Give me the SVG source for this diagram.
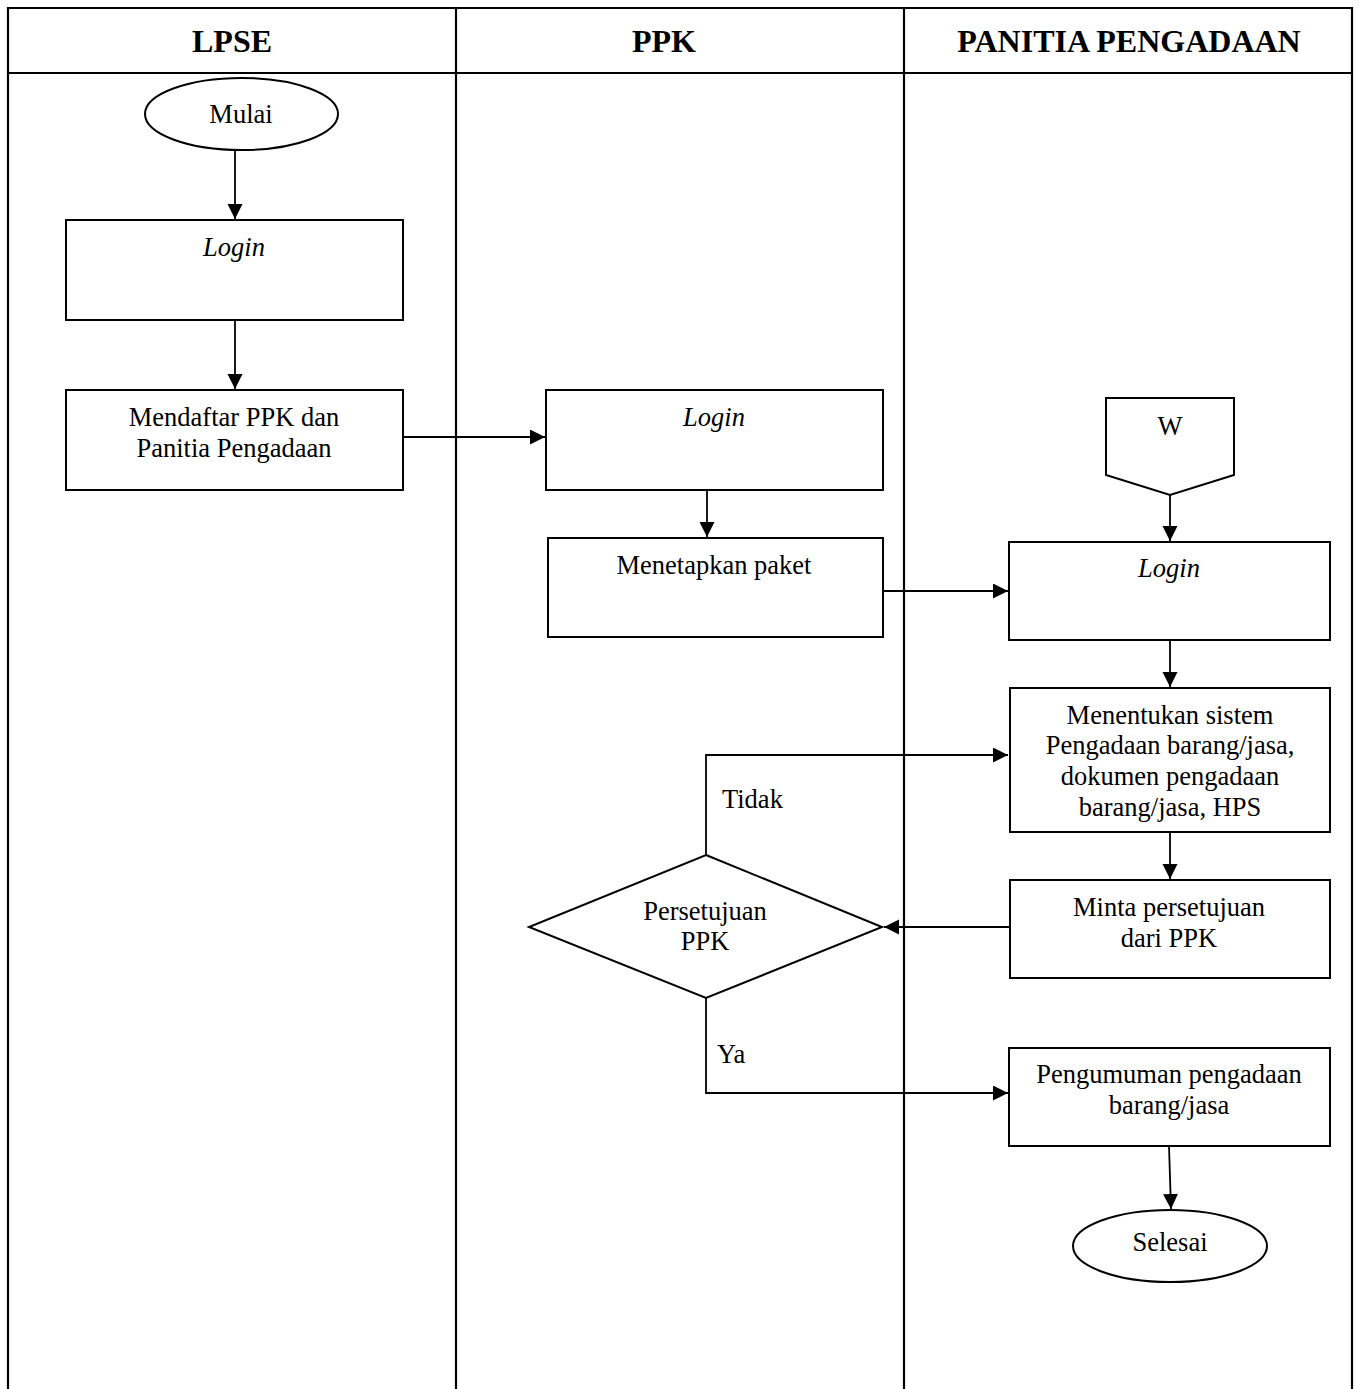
<svg xmlns="http://www.w3.org/2000/svg" width="1359" height="1389" viewBox="0 0 1359 1389">
<style>
text{font-family:"Liberation Serif","Times New Roman",serif;font-size:26.5px;fill:#000;text-anchor:middle}
.h{font-weight:bold;font-size:32px}
.i{font-style:italic}
.l{text-anchor:start}
.s{fill:#fff;stroke:#000;stroke-width:2}
.c{fill:none;stroke:#000;stroke-width:1.8}
.t{fill:none;stroke:#000;stroke-width:2.2}
</style>
<defs>
<marker id="a" markerWidth="16" markerHeight="16" refX="15" refY="7.5" orient="auto" markerUnits="userSpaceOnUse">
<path d="M0,0 L15,7.5 L0,15 Z" fill="#000"/>
</marker>
</defs>
<rect width="1359" height="1389" fill="#fff"/>
<g id="table">
<path class="t" d="M8,1389 V8 H1352 V1389 M8,73 H1352 M456,8 V1389 M904,8 V1389"/>
<text class="h" x="232" y="52">LPSE</text>
<text class="h" x="664" y="52">PPK</text>
<text class="h" x="1129" y="52">PANITIA PENGADAAN</text>
</g>
<g id="connectors">
<path class="c" d="M235,150 V219" marker-end="url(#a)"/>
<path class="c" d="M235,320 V389" marker-end="url(#a)"/>
<path class="c" d="M403,437 H545" marker-end="url(#a)"/>
<path class="c" d="M707,490 V537" marker-end="url(#a)"/>
<path class="c" d="M883,591 H1008" marker-end="url(#a)"/>
<path class="c" d="M1170,495 V541" marker-end="url(#a)"/>
<path class="c" d="M1170,640 V687" marker-end="url(#a)"/>
<path class="c" d="M1170,832 V879" marker-end="url(#a)"/>
<path class="c" d="M1010,927 H884" marker-end="url(#a)"/>
<path class="c" d="M706,855 V755 H1008" marker-end="url(#a)"/>
<path class="c" d="M706,998 V1093 H1008" marker-end="url(#a)"/>
<path class="c" d="M1169,1146 L1171,1209" marker-end="url(#a)"/>
<text class="l" x="722" y="808">Tidak</text>
<text class="l" x="717" y="1063">Ya</text>
</g>
<g id="mulai"><ellipse class="s" cx="241.5" cy="114" rx="96.5" ry="36"/><text x="241" y="123">Mulai</text></g>
<g id="login-lpse"><rect class="s" x="66" y="220" width="337" height="100"/><text class="i" x="234" y="256">Login</text></g>
<g id="mendaftar"><rect class="s" x="66" y="390" width="337" height="100"/><text x="234" y="426">Mendaftar PPK dan</text><text x="234" y="457">Panitia Pengadaan</text></g>
<g id="login-ppk"><rect class="s" x="546" y="390" width="337" height="100"/><text class="i" x="714" y="426">Login</text></g>
<g id="menetapkan"><rect class="s" x="548" y="538" width="335" height="99"/><text x="714" y="574">Menetapkan paket</text></g>
<g id="w"><path class="s" d="M1106,398 H1234 V475 L1170,495 L1106,475 Z"/><text x="1170" y="435">W</text></g>
<g id="login-panitia"><rect class="s" x="1009" y="542" width="321" height="98"/><text class="i" x="1169" y="577">Login</text></g>
<g id="menentukan"><rect class="s" x="1010" y="688" width="320" height="144"/><text x="1170" y="724">Menentukan sistem</text><text x="1170" y="754">Pengadaan barang/jasa,</text><text x="1170" y="785">dokumen pengadaan</text><text x="1170" y="816">barang/jasa, HPS</text></g>
<g id="minta"><rect class="s" x="1010" y="880" width="320" height="98"/><text x="1169" y="916">Minta persetujuan</text><text x="1169" y="947">dari PPK</text></g>
<g id="persetujuan"><path class="s" d="M706,855 L882,927 L706,998 L529,927 Z"/><text x="705" y="920">Persetujuan</text><text x="705" y="950">PPK</text></g>
<g id="pengumuman"><rect class="s" x="1009" y="1048" width="321" height="98"/><text x="1169" y="1083">Pengumuman pengadaan</text><text x="1169" y="1114">barang/jasa</text></g>
<g id="selesai"><ellipse class="s" cx="1170" cy="1246" rx="97" ry="36"/><text x="1170" y="1251">Selesai</text></g>
</svg>
